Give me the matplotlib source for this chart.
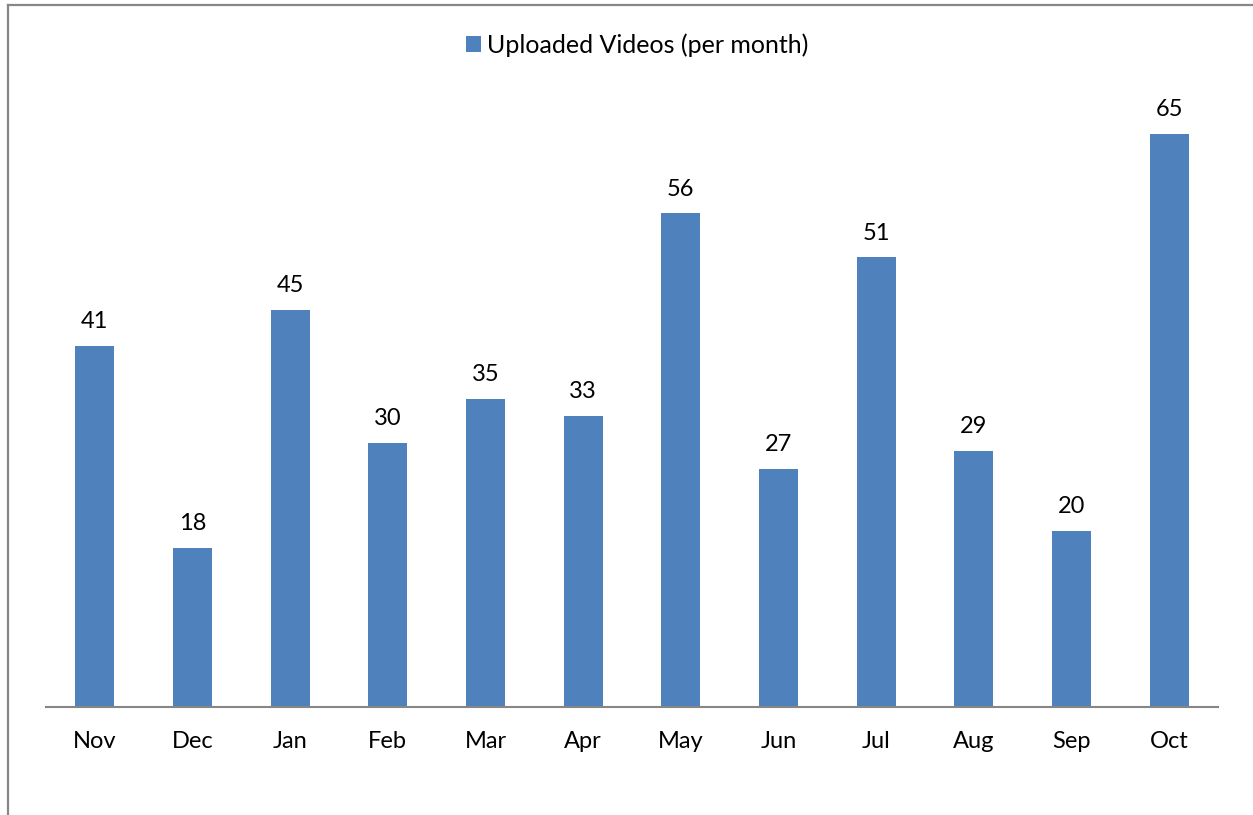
import matplotlib
matplotlib.use("Agg")
import matplotlib.pyplot as plt
from matplotlib.lines import Line2D
from matplotlib.patches import Patch

months = ["Nov", "Dec", "Jan", "Feb", "Mar", "Apr", "May", "Jun", "Jul", "Aug", "Sep", "Oct"]
uploads = [41, 18, 45, 30, 35, 33, 56, 27, 51, 29, 20, 65]
series_name = "Uploaded Videos (per month)"

plt.rcParams['font.family'] = ['Lato', 'DejaVu Sans']
bar_color = "#4F81BD"

W, H = 1253, 815
fig = plt.figure(figsize=(W / 100, H / 100), dpi=100)

ax = fig.add_axes([46 / W, 1 - 707 / H, 1172 / W, (707 - 90) / H])
x = list(range(len(months)))
bars = ax.bar(x, uploads, width=0.4, color=bar_color, zorder=2)
ax.set_xlim(-0.5, len(months) - 0.5)
ax.set_ylim(0, 70)
for xi, v in zip(x, uploads):
    ax.annotate(str(v), (xi, v), xytext=(0, 10), textcoords="offset points",
                ha="center", va="bottom", fontsize=17, color="black")
ax.set_xticks(x)
ax.set_xticklabels(months, fontsize=17)
ax.tick_params(axis="x", length=0, pad=17)
ax.set_yticks([])
for s in ["top", "right", "left"]:
    ax.spines[s].set_visible(False)
ax.spines["bottom"].set_color("#868686")
ax.spines["bottom"].set_linewidth(1.5)

handle = Patch(facecolor=bar_color, edgecolor="none")
fig.legend([handle], [series_name], loc="center", bbox_to_anchor=(637 / W, 1 - 45 / H),
           frameon=False, fontsize=18, handlelength=0.6, handleheight=0.6, handletextpad=0.25)

# chart frame (top and left edges visible)
fig.add_artist(Line2D([7.5 / W, 1.0], [1 - 4.5 / H, 1 - 4.5 / H], color="#878787", lw=1.6,
                      transform=fig.transFigure))
fig.add_artist(Line2D([7.5 / W, 7.5 / W], [0, 1 - 4.5 / H], color="#878787", lw=1.6,
                      transform=fig.transFigure))

fig.savefig("out.png", dpi=100)
